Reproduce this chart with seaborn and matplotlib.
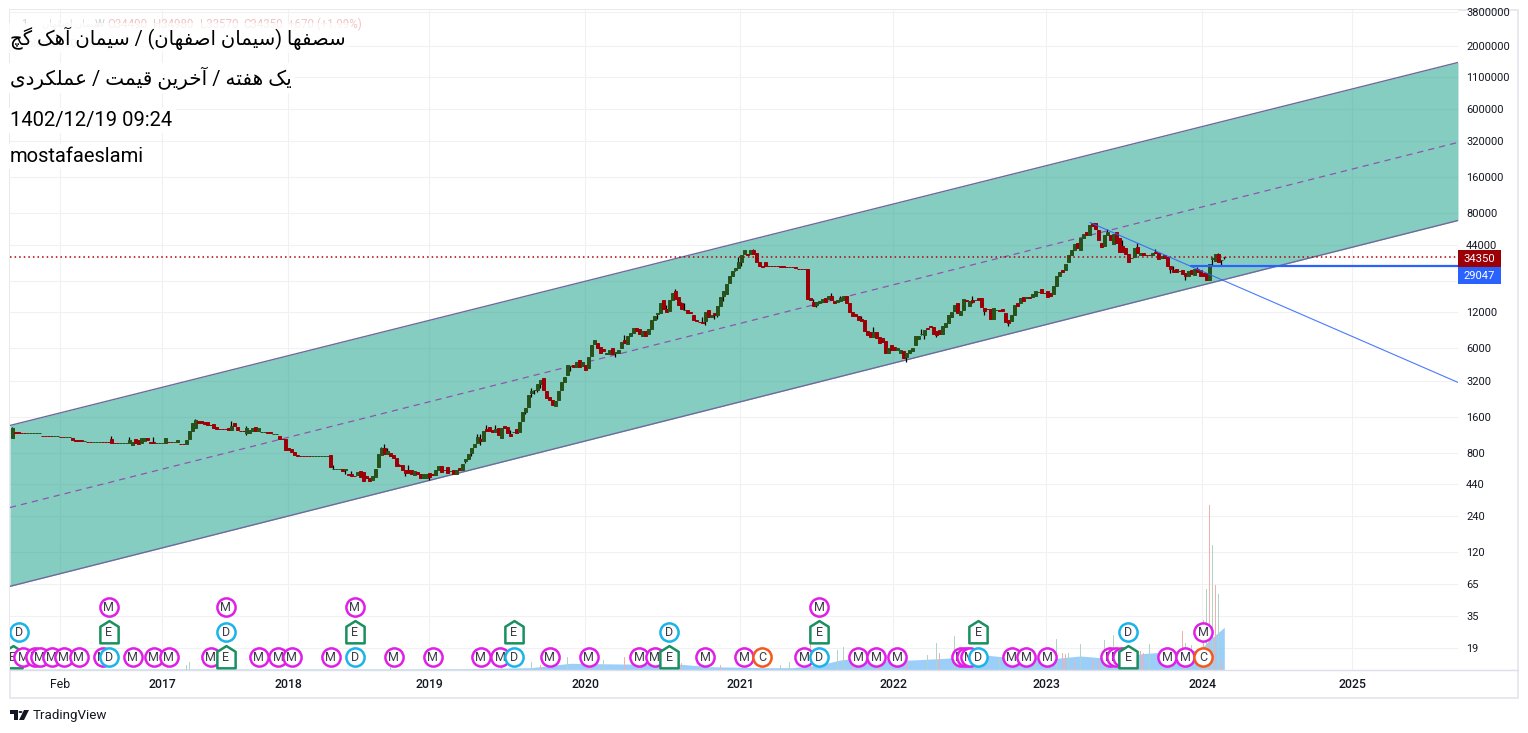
import matplotlib
matplotlib.use('Agg')
import matplotlib.pyplot as plt
from matplotlib.patches import Rectangle, Circle, Polygon
from matplotlib.path import Path
from matplotlib.ticker import NullLocator
import pandas as pd
import seaborn as sns

############ DATA ############

title_1 = 'سصفها (سیمان اصفهان) / سیمان آهک گچ'
title_2 = 'یک هفته / آخرین قیمت / عملکردی'
title_3 = '1402/12/19 09:24'
title_4 = 'mostafaeslami'

# weekly candles, one entry per bar
opens = [
    1066, 1196, 1196, 1192, 1192, 1185, 1185, 1185, 1185, 1185,
    1125, 1125, 1125, 1125, 1120, 1120, 1102, 1102, 1098, 1098,
    1075, 1024, 1024, 1024, 1016, 1002, 1002, 998, 998, 998,
    990, 990, 990, 1045, 982, 982, 978, 978, 978, 974,
    932, 1045, 1025, 968, 1006, 1075, 990, 986, 978, 978,
    978, 982, 998, 998, 992, 995, 965, 965, 950, 1045,
    1219, 1310, 1500, 1480, 1470, 1450, 1390, 1400, 1325, 1270,
    1270, 1270, 1290, 1245, 1445, 1330, 1232, 1232, 1175, 1175,
    1230, 1317, 1220, 1208, 1208, 1194, 1194, 1163, 1163, 1107,
    1052, 1055, 880, 863, 825, 775, 765, 765, 765, 765,
    760, 760, 760, 760, 760, 760, 769, 588, 588, 588,
    592, 576, 540, 533, 522, 528, 565, 560, 513, 498,
    475, 505, 610, 769, 888, 790, 799, 769, 726, 636,
    634, 583, 583, 583, 523, 554, 538, 494, 494, 544,
    535, 523, 576, 622, 585, 610, 565, 576, 533, 599,
    583, 685, 712, 807, 897, 968, 1045, 1006, 1270, 1317,
    1240, 1205, 1292, 1066, 1340, 1317, 1151, 1200, 1267, 1208,
    1501, 1781, 1962, 2530, 2690, 2710, 3040, 3420, 2630, 2340,
    2208, 2000, 2208, 2690, 3165, 3630, 4270, 4350, 4170, 4760,
    4300, 4350, 4090, 5160, 6470, 6600, 6200, 5950, 5420, 5340,
    5990, 5520, 5540, 5990, 6990, 6470, 7550, 7990, 8950, 8630,
    7550, 8310, 7850, 8630, 10260, 11650, 11900, 15300, 12850, 12400,
    15300, 17900, 16200, 14200, 12570, 12600, 11980, 11450, 10260, 10020,
    9950, 10060, 12600, 11000, 11900, 11450, 13650, 16550, 17200, 20900,
    24300, 26800, 28300, 31200, 36400, 36400, 36400, 39300, 37100, 31800,
    29400, 31200, 29300, 29300, 29300, 29300, 29250, 29250, 28800, 28800,
    28800, 28400, 27800, 27800, 27800, 27700, 15750, 14700, 13750, 14450,
    14700, 15700, 15600, 16500, 14850, 14700, 15000, 15300, 16400, 14200,
    12150, 11650, 11250, 10600, 10260, 8310, 8150, 7400, 8150, 7470,
    7270, 6860, 5440, 6340, 6170, 5760, 5540, 5730, 5040, 5440,
    5650, 6340, 7130, 7830, 7800, 8950, 9130, 9100, 8310, 8470,
    7850, 8970, 9680, 11000, 12400, 14450, 11450, 12600, 15050, 13650,
    15300, 15060, 15900, 15900, 13100, 12880, 12850, 10600, 12570, 12430,
    12850, 11900, 10260, 10160, 11450, 14300, 14200, 16200, 15860, 16200,
    16200, 16550, 17760, 18600, 17440, 17900, 17400, 16900, 19900, 23900,
    26800, 26800, 31200, 35700, 39300, 45800, 39300, 49500, 55500, 52400,
    67000, 66000, 57700, 45800, 43200, 53400, 53400, 44900, 55500, 49500,
    43200, 41600, 36400, 33700, 35000, 42400, 35700, 37100, 36350, 36350,
    36300, 38500, 37800, 33700, 35700, 35000, 28900, 26800, 27300, 26350,
    26800, 25300, 24300, 26800, 24600, 27300, 26800, 25300, 25300, 22100,
    33500, 32000, 36400, 32600, 34490,
]
closes = [
    1292, 1190, 1190, 1186, 1186, 1190, 1190, 1190, 1190, 1190,
    1120, 1120, 1120, 1120, 1125, 1125, 1098, 1098, 1102, 1102,
    1025, 1018, 1018, 1018, 1022, 998, 998, 1002, 1002, 1002,
    985, 985, 985, 980, 978, 978, 982, 982, 982, 1025,
    987, 968, 959, 1075, 1075, 1025, 982, 980, 982, 982,
    982, 1075, 992, 992, 998, 1025, 960, 960, 1025, 1219,
    1440, 1525, 1440, 1420, 1400, 1385, 1385, 1300, 1280, 1265,
    1265, 1265, 1245, 1350, 1340, 1245, 1226, 1226, 1290, 1243,
    1310, 1230, 1290, 1213, 1213, 1188, 1188, 1168, 1168, 1045,
    1048, 847, 847, 822, 775, 755, 760, 760, 760, 760,
    765, 765, 765, 765, 765, 765, 610, 595, 595, 595,
    565, 592, 523, 518, 518, 560, 505, 466, 494, 466,
    513, 587, 784, 880, 784, 830, 754, 726, 622, 632,
    576, 550, 550, 533, 565, 533, 498, 533, 533, 505,
    531, 576, 622, 560, 581, 544, 571, 533, 576, 576,
    652, 722, 790, 880, 950, 1086, 1006, 1219, 1228, 1219,
    1200, 1270, 1129, 1292, 1292, 1185, 1107, 1210, 1173, 1472,
    1781, 1925, 2435, 2640, 2710, 3040, 3280, 2700, 2300, 2210,
    2040, 2166, 2630, 3165, 3490, 4350, 4310, 4230, 4590, 4230,
    4590, 3950, 5040, 6340, 6990, 5990, 5540, 5650, 5460, 5870,
    5340, 5560, 5760, 6730, 6600, 7550, 8000, 8830, 8360, 7850,
    8360, 7550, 8630, 10260, 11250, 11750, 14450, 12850, 12150, 15300,
    17500, 15600, 13900, 12850, 12630, 11900, 11920, 10260, 10060, 9980,
    9680, 12150, 11000, 11450, 11450, 13650, 16200, 18200, 20500, 23900,
    26300, 28300, 31800, 35700, 39300, 35700, 39300, 36400, 31800, 29400,
    28600, 28900, 29100, 29100, 29100, 29100, 28750, 28750, 28600, 28600,
    28600, 28200, 27600, 27600, 27600, 15600, 15300, 13450, 14550, 14850,
    15500, 14700, 16500, 15300, 14400, 15300, 15800, 16400, 14200, 12050,
    11250, 11100, 10260, 10060, 8310, 7700, 7410, 8240, 7270, 6600,
    6800, 5440, 6100, 5760, 5870, 6000, 5760, 4940, 5540, 5760,
    6100, 7550, 7550, 7870, 8470, 8630, 9070, 7850, 7700, 7850,
    9140, 9680, 11450, 12150, 13900, 11900, 12400, 15600, 14950, 15000,
    14700, 15140, 15300, 13400, 12400, 12820, 10600, 13100, 12630, 12370,
    12400, 9950, 9800, 11450, 13900, 13600, 15900, 15000, 15940, 15650,
    17200, 17900, 17840, 17500, 17360, 16200, 16550, 19900, 23900, 25800,
    25800, 30600, 36200, 40000, 44100, 41600, 49500, 54400, 52400, 64700,
    62300, 59900, 47600, 42400, 53400, 55500, 47600, 54400, 45800, 38500,
    38500, 36400, 31200, 33900, 41600, 37100, 37800, 36200, 36250, 36250,
    37400, 37100, 33600, 35500, 33800, 28900, 27300, 25800, 25800, 26450,
    24800, 24000, 26300, 24800, 27800, 26000, 24300, 24300, 22100, 30600,
    33700, 36400, 31200, 33000, 34350,
]

# wicks that stick out of the body
high_bars = [0, 33, 39, 47, 61, 73, 78, 94, 107, 113, 123, 124, 125, 129, 132, 155, 156, 158, 161, 166,
             173, 204, 218, 221, 223, 224, 230, 242, 247, 267, 273, 276, 283, 287, 303, 320, 365, 370,
             375, 381, 387, 395, 400, 402, 404]
high_vals = [1320, 1105, 1085, 1085, 1550, 1500, 1340, 820, 634, 565, 910, 960, 880, 652, 640, 1151, 1151,
             1390, 1365, 1260, 2790, 7700, 13900, 18600, 14700, 14200, 11000, 35000, 40800, 15600, 17400,
             16500, 11100, 9090, 8630, 16500, 59900, 47600, 45800, 40800, 29400, 28400, 35000, 37800, 34980]
low_bars = [78, 111, 131, 139, 151, 153, 156, 171, 173, 174, 175, 176, 186, 201, 215, 231, 234, 235, 237,
            241, 243, 268, 298, 303, 304, 308, 320, 324, 332, 386, 391, 400, 403, 404]
low_vals = [1130, 540, 513, 475, 663, 757, 932, 1710, 2340, 2490, 2580, 2830, 3850, 5040, 10450, 9320,
            10450, 11000, 15000, 26300, 29400, 13400, 4660, 7700, 7130, 7410, 14200, 11450, 9140, 25300,
            22500, 28900, 30000, 33570]

# volume spikes
green_vol_bars = [58, 59, 126, 173, 185, 197, 209, 216, 229, 256, 259, 275, 277, 286, 293, 298, 305, 308, 314,
                  316, 329, 336, 341, 348, 352, 356, 364, 367, 373, 379, 383, 386, 391, 393, 398, 400, 402]
green_vol = [5, 8, 3, 8, 13, 10, 8, 7, 6, 5, 8, 20, 23, 12, 10, 15, 15, 27, 34, 10, 12, 10, 9, 31, 17, 26, 30,
             35, 14, 26, 12, 10, 27, 25, 81, 125, 76]
red_vol_bars = [163, 176, 193, 204, 223, 236, 266, 280, 289, 298, 309, 321, 350, 351, 354, 360, 362, 376, 377,
                390, 397, 399, 401, 403]
red_vol = [3, 5, 8, 13, 7, 5, 28, 18, 12, 8, 17, 9, 17, 16, 8, 10, 9, 19, 17, 39, 50, 165, 85, 8]

# volume moving average
vol_ma_bars = [0, 40, 129, 152, 173, 186, 203, 216, 223, 232, 251, 260, 269, 276, 281, 292, 300, 311, 324, 331,
               348, 356, 364, 378, 396, 399, 404]
vol_ma = [0.8, 1, 1, 1.2, 2.3, 6.7, 6, 6, 5.7, 3.3, 2.3, 2.3, 5, 10, 11.7, 10, 10, 11.7, 15, 13, 11.7, 14, 12,
          16.7, 20, 30, 42.7]

# dividend, earnings, meeting and capital events, three stacked rows along the bottom
row0_bars = [0.2, 3.6, 7.6, 9.2, 13.2, 17.2, 22.2, 30.2, 32.2, 40.2, 47.2, 52.2, 66.2, 71.2, 82.2, 88.6, 93.2,
             106.2, 114.2, 127.2, 140.2, 156.2, 162.6, 167.2, 179.2, 192.2, 208.9, 214.2, 218.9, 230.9, 243.9,
             249.9, 263.9, 268.9, 281.9, 287.9, 294.9, 316.2, 317.9, 319.2, 321.9, 333.2, 337.9, 344.9, 365.9,
             367.9, 369.9, 371.9, 384.9, 390.9, 396.9]
row0_kinds = list('EMMMMMMMDMMMMEMMMMDMMMMDMMMMEMMCMDMMMMMMDMMMMMMEMMC')[:len(row0_bars)]
row1_bars = [2.2, 32.2, 71.2, 114.2, 167.2, 218.9, 268.9, 321.9, 371.9, 396.9]
row1_kinds = ['D', 'E', 'D', 'E', 'E', 'D', 'E', 'E', 'D', 'M']
row2_bars = [32.2, 71.2, 114.2, 268.9]
row2_kinds = ['M', 'M', 'M', 'M']

# channel and trend lines, left edge to right edge
edge_bars = [-0.77, 481.9]
channel_upper = [1365, 1452800]
channel_mid = [282.6, 313000]
channel_lower = [62.2, 69900]
trend_bars = [359.2, 481.9]
trend_vals = [67300, 3120]
support_bars = [393, 481.9]
support_vals = [29047, 29047]
last_close = 34350

price_ticks = [3800000, 2000000, 1100000, 600000, 320000, 160000, 80000, 44000, 22000, 12000, 6000, 3200, 1600,
               800, 440, 240, 120, 65, 35, 19]
hidden_ticks = [22000]
time_bars = [15.9, 49.9, 91.9, 138.9, 190.9, 242.6, 293.6, 344.6, 396.6, 446.6]
time_labels = ['Feb', '2017', '2018', '2019', '2020', '2021', '2022', '2023', '2024', '2025']

############ DATA ############

W, H = 1528, 733
UP = '#27521a'
DOWN = '#9c0006'
FONTS = ['Roboto', 'DejaVu Sans']

# matplotlib has no Arabic shaping: iso, final, initial, medial forms
DUAL = {'س': 'ﺱﺲﺳﺴ', 'ص': 'ﺹﺺﺻﺼ', 'ف': 'ﻑﻒﻓﻔ', 'ه': 'ﻩﻪﻫﻬ', 'ن': 'ﻥﻦﻧﻨ', 'م': 'ﻡﻢﻣﻤ',
        'ی': '\ufbfc\ufbfd\ufbfe\ufbff', 'ک': '\ufb8e\ufb8f\ufb90\ufb91', 'گ': '\ufb92\ufb93\ufb94\ufb95',
        'چ': '\ufb7a\ufb7b\ufb7c\ufb7d', 'خ': 'ﺥﺦﺧﺨ', 'ق': 'ﻕﻖﻗﻘ', 'ت': 'ﺕﺖﺗﺘ', 'ع': 'ﻉﻊﻋﻌ', 'ل': 'ﻝﻞﻟﻠ'}
RIGHT = {'ا': 'ﺍﺎ', 'آ': 'ﺁﺂ', 'ر': 'ﺭﺮ', 'د': 'ﺩﺪ'}


def shape(text):
    out = []
    for n, ch in enumerate(text):
        before = n > 0 and text[n - 1] in DUAL
        after = n < len(text) - 1 and (text[n + 1] in DUAL or text[n + 1] in RIGHT)
        if ch in DUAL:
            out.append(DUAL[ch][(3 if after else 1) if before else (2 if after else 0)])
        elif ch in RIGHT:
            out.append(RIGHT[ch][1 if before else 0])
        else:
            out.append({'(': ')', ')': '('}.get(ch, ch))
    return ''.join(reversed(out))


def fig_box(x0, y0, x1, y1, **kw):
    fig.add_artist(Rectangle((x0 / W, 1 - y1 / H), (x1 - x0) / W, (y1 - y0) / H, transform=fig.transFigure, **kw))


def fig_text(x, y, s, **kw):
    kw.setdefault('family', FONTS)
    kw.setdefault('va', 'center')
    return fig.text(x / W, 1 - y / H, s, **kw)


sns.set_theme(style='white')
plt.rcParams['font.family'] = FONTS

fig = plt.figure(figsize=(W / 100, H / 100), dpi=100, facecolor='white')
ax = fig.add_axes([10 / W, 1 - 670 / H, 1448 / W, 660 / H])
ax.set_yscale('log')
ax.set_xlim(edge_bars)
ax.set_ylim(12.48, 3977000)

# channel
ax.fill_between(edge_bars, channel_lower, channel_upper, color='#089981', alpha=0.49, linewidth=0, zorder=1)
for vals in (channel_upper, channel_lower):
    sns.lineplot(x=edge_bars, y=vals, ax=ax, color='#6f6a9e', linewidth=1.0, errorbar=None, zorder=2)
sns.lineplot(x=edge_bars, y=channel_mid, ax=ax, color='#8e55b0', linewidth=0.9, linestyle=(0, (5, 4)),
             errorbar=None, zorder=2)

# candles
bars = pd.DataFrame({'bar': range(len(opens)), 'open': opens, 'close': closes})
bars['top'] = bars[['open', 'close']].max(axis=1)
bars['bottom'] = bars[['open', 'close']].min(axis=1)
bars['colour'] = [UP if c >= o else DOWN for o, c in zip(opens, closes)]
tops = bars.set_index('bar')['top']
bottoms = bars.set_index('bar')['bottom']
ax.vlines(high_bars, tops.loc[high_bars], high_vals, color='black', linewidth=0.9, zorder=3)
ax.vlines(low_bars, bottoms.loc[low_bars], low_vals, color='black', linewidth=0.9, zorder=3)
ax.bar(bars['bar'], bars['top'] - bars['bottom'], bottom=bars['bottom'], width=0.85, color=bars['colour'],
       edgecolor=bars['colour'], linewidth=0.7, zorder=4)

# price and trend lines
sns.lineplot(x=edge_bars, y=[last_close, last_close], ax=ax, color='#b00008', linewidth=1.1,
             linestyle=(0, (1, 2)), errorbar=None, zorder=5)
sns.lineplot(x=trend_bars, y=trend_vals, ax=ax, color='#2962ff', linewidth=0.8, errorbar=None, zorder=5, alpha=0.85)
sns.lineplot(x=support_bars, y=support_vals, ax=ax, color='#2962ff', linewidth=1.6, errorbar=None, zorder=5)

# volume and events sit on their own linear scale
vol = ax.twinx()
vol.set_ylim(0, 660)
vol.axis('off')
vol.fill_between(vol_ma_bars, vol_ma, color='#90caf9', alpha=0.9, linewidth=0, zorder=1)
vol.bar(green_vol_bars, green_vol, width=0.4, color='#aed6c4', linewidth=0, zorder=2)
vol.bar(red_vol_bars, red_vol, width=0.4, color='#f5aeae', linewidth=0, zorder=2)

HOUSE = Path([(-0.8, -0.95), (0.8, -0.95), (0.8, 0.5), (0, 1.0), (-0.8, 0.5), (-0.8, -0.95)], closed=True)
EVENT_COLOURS = {'M': '#e01fe6', 'D': '#1ab4e8', 'E': '#1a8f5f', 'C': '#f4581c'}
order = [(b, k, 13) for b, k in zip(row0_bars, row0_kinds)]
order += [(b, k, 38) for b, k in zip(row1_bars, row1_kinds)]
order += [(b, k, 63) for b, k in zip(row2_bars, row2_kinds)]
for n, (b, kind, y) in enumerate(order):
    sns.scatterplot(x=[b], y=[y], ax=vol, s=270 if kind == 'E' else 172, marker=HOUSE if kind == 'E' else 'o',
                    facecolor='white', edgecolor=EVENT_COLOURS[kind], linewidth=1.8, zorder=10 + n, legend=False)
    vol.text(b, y - 0.3, kind, ha='center', va='center', fontsize=9, color='#3a3d45', zorder=10 + n,
             family=FONTS, clip_on=True)
vol.set_xlim(edge_bars)
vol.set_ylim(0, 660)

# grid and scales, twinx moved the price ticks so these come last
ax.set_yticks(price_ticks)
ax.set_yticklabels(['' if t in hidden_ticks else str(t) for t in price_ticks])
ax.yaxis.set_minor_locator(NullLocator())
ax.yaxis.tick_right()
ax.set_xticks(time_bars)
ax.set_xticklabels(time_labels)
ax.grid(True, color='#f1f1f3', linewidth=0.8)
ax.set_axisbelow(True)
ax.tick_params(axis='y', length=0, pad=5.8, labelsize=7.9, labelcolor='#131722')
ax.tick_params(axis='x', length=0, pad=5.7, labelsize=8.8, labelcolor='#131722')
for label in ax.get_xticklabels()[1:]:
    label.set_fontweight('medium')
for side in ax.spines:
    ax.spines[side].set_visible(False)

# frame round the chart
fig_box(10, 10, 1518, 698, facecolor='none', edgecolor='#e8e8ee', linewidth=1.4, zorder=-1)
fig.add_artist(plt.Line2D([10 / W, 1518 / W], [1 - 670 / H] * 2, transform=fig.transFigure, color='#dcdfe8',
                          linewidth=1.0))

# price labels
fig_box(1458, 250.5, 1501, 266.5, facecolor='#9c0006', edgecolor='none', zorder=3)
fig_text(1479.5, 258.5, str(last_close), ha='center', color='white', fontsize=8.1, zorder=4)
fig_box(1458, 267.5, 1501, 284, facecolor='#2962ff', edgecolor='none', zorder=3)
fig_text(1479.5, 275.8, '29047', ha='center', color='white', fontsize=8.1, zorder=4)

# faint legend underneath the titles
fig_text(21, 24, '1', color='#d0d0d4', fontsize=7.9)
fig_text(42, 24, shape('سیمان اصفهان'), color='#dcdcdf', fontsize=7)
fig_text(95, 24, 'W', color='#d0d0d4', fontsize=7.9)
for x, s in [(107, 'O34490'), (153, 'H34980'), (200, 'L33570'), (243, 'C34350'), (288, '+670 (+1.99%)')]:
    fig_text(x, 24, s, color='#f0c4c4', fontsize=8.3, zorder=2)
fig_text(20, 44, 'Volume (20, close)', color='#d8d8dc', fontsize=7.9, zorder=2)

# titles with white plates
plate = dict(facecolor='white', edgecolor='none', pad=2.5)
fig_text(10, 38, shape(title_1), color='black', fontsize=14.1, zorder=5, bbox=dict(plate, alpha=0.75))
fig_text(10, 78, shape(title_2), color='black', fontsize=14.4, zorder=5, bbox=plate)
fig_text(10, 120.5, title_3, color='black', fontsize=14.5, zorder=5, bbox=plate)
fig_text(10, 156.5, title_4, color='black', fontsize=14.5, zorder=5, bbox=plate)

# TradingView mark
fig_box(10, 710, 18, 714, facecolor='#131722', edgecolor='none')
fig_box(14, 710, 18, 720, facecolor='#131722', edgecolor='none')
fig.add_artist(Circle((20.5 / W, 1 - 712 / H), 2 / W, transform=fig.transFigure, facecolor='#131722', edgecolor='none'))
fig.add_artist(Polygon([(24 / W, 1 - 710 / H), (29 / W, 1 - 710 / H), (24 / W, 1 - 720 / H), (19 / W, 1 - 720 / H)],
                       transform=fig.transFigure, facecolor='#131722', edgecolor='none'))
fig_text(33, 715, 'TradingView', color='#131722', fontsize=9.6)

fig.savefig('out.png', dpi=100)
plt.close(fig)
